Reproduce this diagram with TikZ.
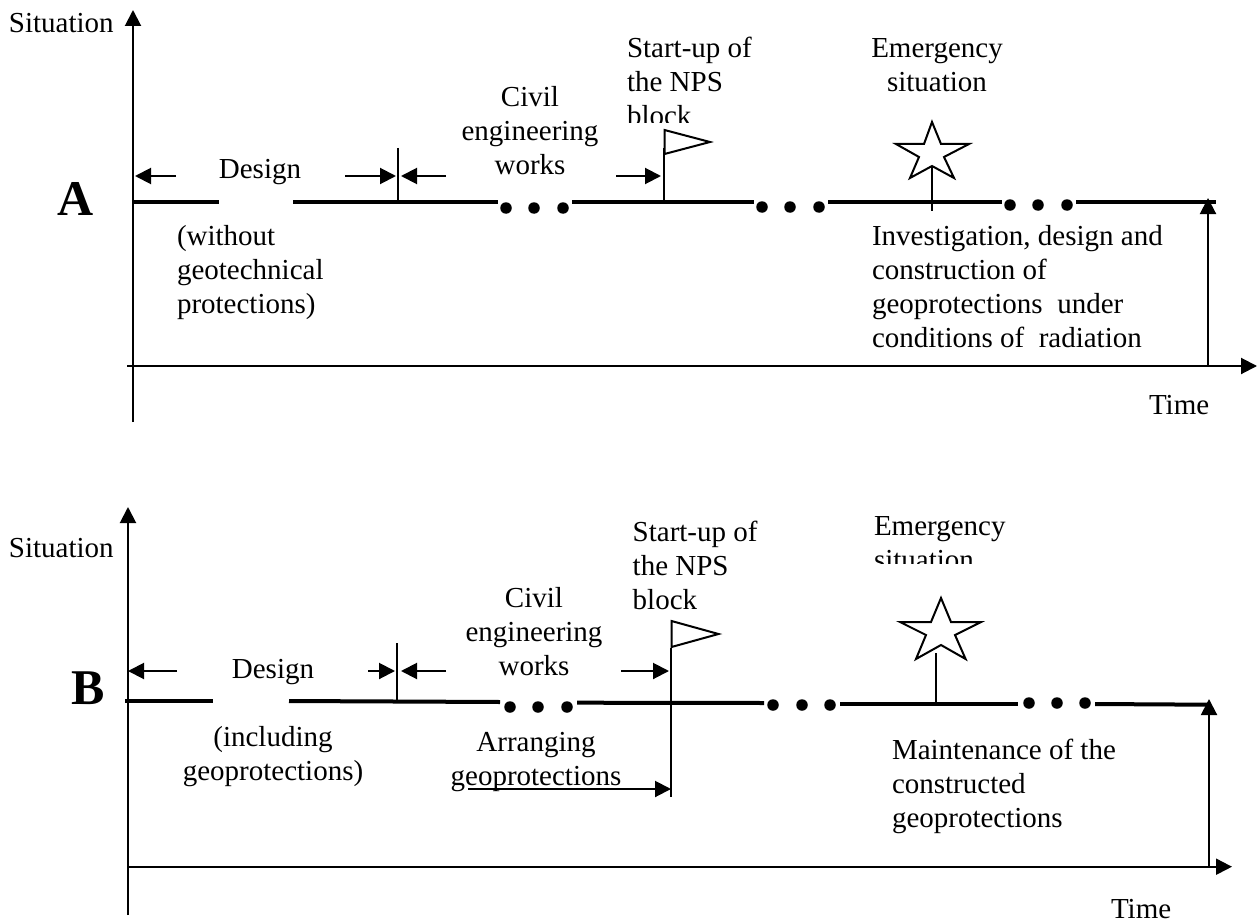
\documentclass[tikz,border=0pt]{standalone}
\usepackage{fontspec}
\setmainfont{Liberation Serif}
\usetikzlibrary{arrows.meta}
\newcommand{\fl}{\rule{0pt}{22pt}}
\tikzset{
  lbl/.style={inner sep=0pt,outer sep=0pt,yshift=-1pt,font=\fontsize{29}{34}\selectfont},
  lblL/.style={lbl,anchor=north west,align=left},
  lblC/.style={lbl,anchor=north,align=center},
  big/.style={inner sep=0pt,outer sep=0pt,anchor=base west,font=\fontsize{50}{50}\selectfont\bfseries},
  axis/.style={line width=2pt,-{Triangle[length=16pt,width=16pt]}},
  dim/.style={line width=2pt,-{Triangle[length=16pt,width=16pt]}},
  thin line/.style={line width=2pt},
  timeline/.style={line width=4pt},
  shape line/.style={line width=2pt,line join=miter},
  dotmark/.style={circle,fill=black,inner sep=0pt,minimum size=11.5pt}
}
\begin{document}
\begin{tikzpicture}[x=1pt,y=-1pt]
\useasboundingbox (0,0) rectangle (1258,923);
% ---------- A ----------
\draw[axis] (133,422) -- (133,10);
\draw[axis] (127,366) -- (1257,366);
\draw[timeline] (133,201.5) -- (219,201.5);
\draw[timeline] (293,201.5) -- (498,201.5);
\draw[timeline] (572,201.5) -- (754,201.5);
\draw[timeline] (828,201.5) -- (1002,201.5);
\draw[timeline] (1076,201.5) -- (1215.5,201.5);
\foreach \x in {506,534,563} \node[dotmark] at (\x,208) {};
\foreach \x in {762,790,819} \node[dotmark] at (\x,207) {};
\foreach \x in {1010,1038,1067} \node[dotmark] at (\x,205) {};
\draw[thin line] (397.5,148) -- (397.5,201);
\draw[dim] (176,176) -- (135,176);
\draw[dim] (345,176) -- (396,176);
\draw[dim] (446,176) -- (401,176);
\draw[dim] (616,176) -- (661,176);
\draw[thin line] (663.5,201) -- (663.5,148);
\draw[shape line] (664.5,130) -- (710,142) -- (664.5,154) -- cycle;
\draw[shape line] (932,122) -- (941,144) -- (969,144) -- (944,157) -- (954,178) -- (932,166) -- (910,178) -- (919,157) -- (896,144) -- (924,144) -- cycle;
\draw[thin line] (931.5,166) -- (931.5,211);
\draw[axis] (1208,366) -- (1208,198);
\node[lbl,anchor=base west] (sitA) at (9,32) {Situation};
\node[big] (letA) at (57,215) {A};
\node[lbl,anchor=base] (desA) at (260,177) {Design};
\node[lblC] (civA) at (530,83) {\fl Civil\\engineering\\works};
\node[lblL] (woA) at (177,222) {\fl (without\\geotechnical\\protections)};
\begin{scope}
\clip (600,0) rectangle (760,123);
\node[lblL] (startA) at (627,35) {\fl Start-up of\\the NPS\\block};
\end{scope}
\node[lblC] (emA) at (937,35) {\fl Emergency\\situation};
\node[lblL] (invA) at (872,222) {\fl Investigation, design and\\construction of\\geoprotections\ \ under\\conditions of\ \ radiation};
\node[lbl,anchor=base west] (timeA) at (1149,413) {Time};
% ---------- B ----------
\draw[axis] (128,915) -- (128,507);
\draw[axis] (128,866.7) -- (1232,866.7);
\draw[timeline] (125,700.7) -- (213,700.7);
\draw[timeline] (289,701) -- (500,702);
\draw[timeline] (577,702.7) -- (764,703);
\draw[timeline] (840,703.7) -- (1018,703.7);
\draw[timeline] (1095,704) -- (1208,704.7);
\foreach \x in {510,538,567} \node[dotmark] at (\x,707) {};
\foreach \x in {773,802,830} \node[dotmark] at (\x,705) {};
\foreach \x in {1029,1057,1085} \node[dotmark] at (\x,703) {};
\draw[thin line] (396.7,643) -- (396.7,701);
\draw[dim] (177,671) -- (128,671);
\draw[dim] (368,671) -- (395,671);
\draw[dim] (446,671) -- (401,671);
\draw[dim] (621,671) -- (669,671);
\draw[thin line] (671,648) -- (671,797);
\draw[shape line] (671.5,621) -- (718.5,634) -- (671.5,647) -- cycle;
\draw[dim] (468,789) -- (671,789);
\draw[shape line] (941,598) -- (951,622) -- (981,622) -- (955,635) -- (965.6,659) -- (941,645) -- (916,659) -- (926,635) -- (900,622) -- (931,622) -- cycle;
\draw[thin line] (936,653) -- (936,703);
\draw[axis] (1209,867) -- (1209,699);
\node[lbl,anchor=base west] (sitB) at (9,556) {Situation};
\node[big] (letB) at (71,704) {B};
\node[lbl,anchor=base] (desB) at (273,677) {Design};
\node[lblC] (civB) at (534,584) {\fl Civil\\engineering\\works};
\node[lblC] (inB) at (273,723) {\fl (including\\geoprotections)};
\node[lblC] (arB) at (536,728) {\fl Arranging\\geoprotections};
\node[lblL] (startB) at (632.7,518) {\fl Start-up of\\the NPS\\block};
\begin{scope}
\clip (860,500) rectangle (1020,563);
\node[lblL] (emB) at (874,512) {\fl Emergency\\situation};
\end{scope}
\node[lblL] (mainB) at (892,736) {\fl Maintenance of the\\constructed\\geoprotections};
\node[lbl,anchor=base west] (timeB) at (1111,917) {Time};
\end{tikzpicture}
\end{document}
